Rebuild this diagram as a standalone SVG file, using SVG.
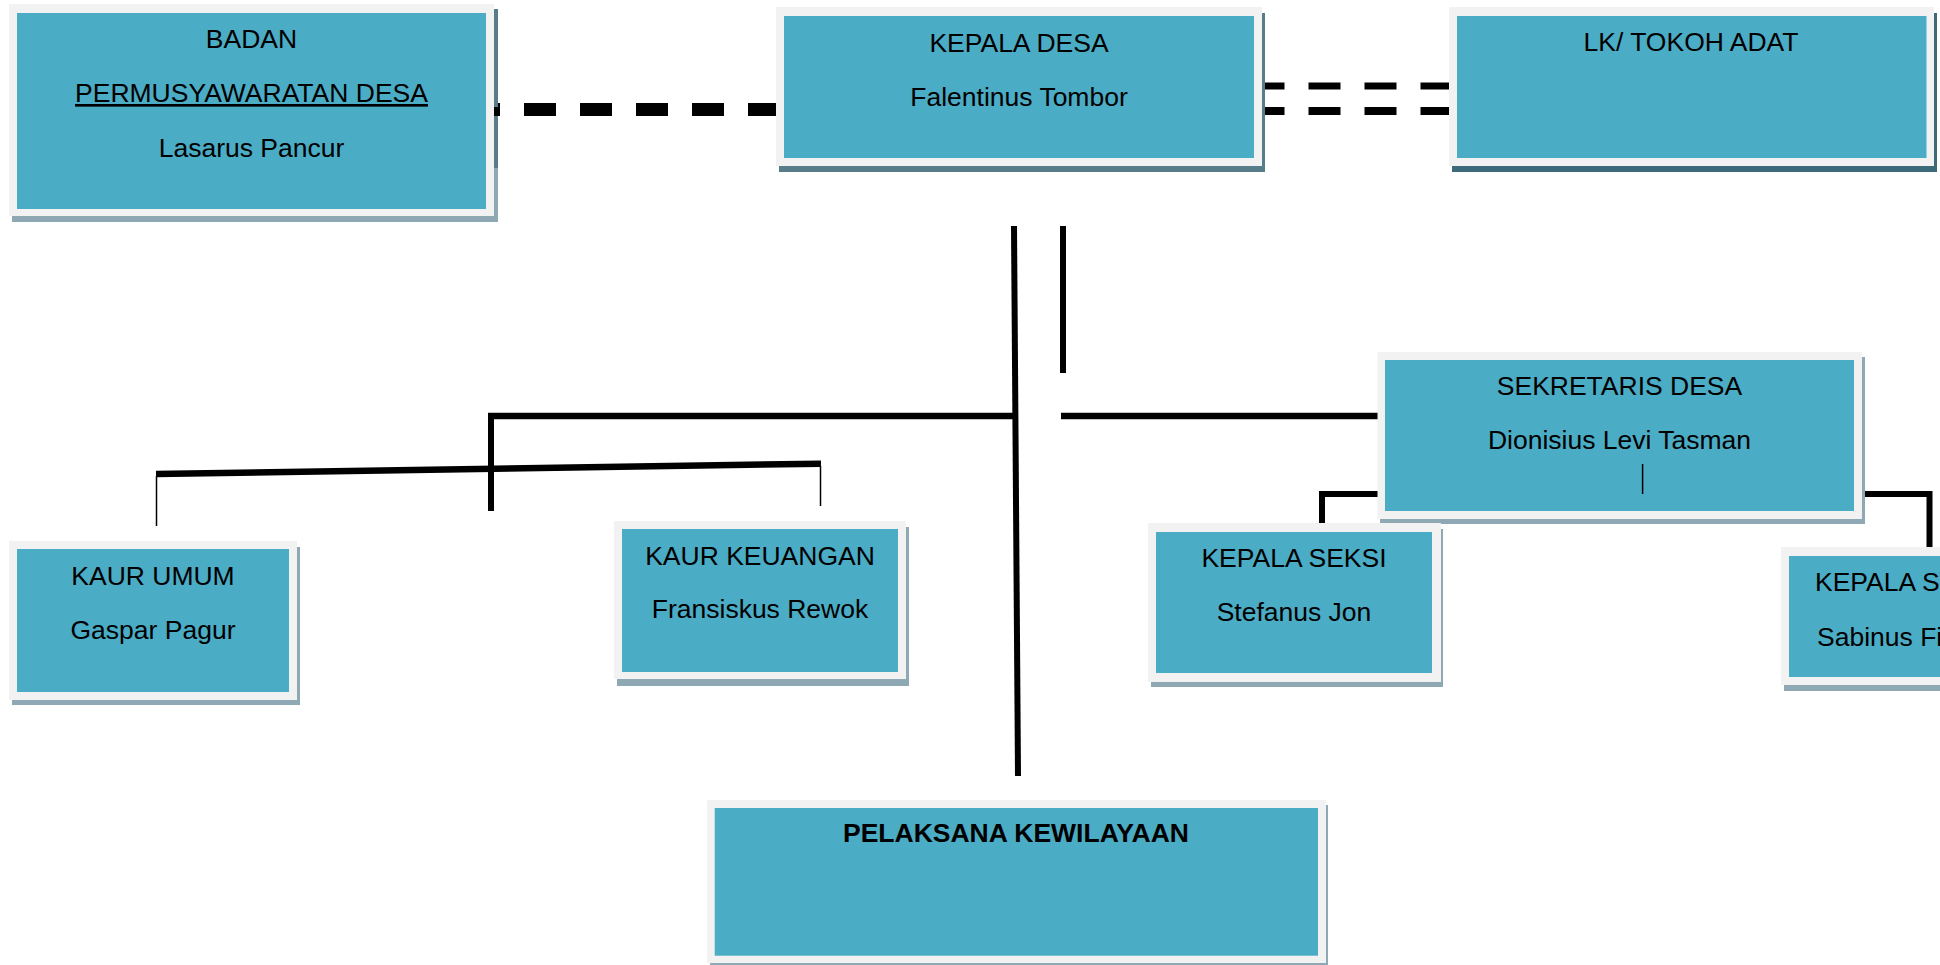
<svg xmlns="http://www.w3.org/2000/svg" width="1940" height="965" viewBox="0 0 1940 965">
<style>
.fr{fill:#f2f2f2}
.in{fill:#4bacc6}
.sh{fill:#8fa9b4}
.shd{fill:#577d8b}
.shk{fill:#3c6a7a}
text{font-family:"Liberation Sans",Arial,sans-serif;font-size:26.5px;fill:#000;text-anchor:middle}
.b{font-weight:bold}
.st{text-anchor:start}
.ln{stroke:#000;fill:none;stroke-linecap:butt;stroke-linejoin:miter}
</style>
<rect width="1940" height="965" fill="#fff"/>
<g id="connectors">
<line class="ln" x1="494" y1="109.5" x2="780" y2="109.5" stroke-width="13" stroke-dasharray="32 24" stroke-dashoffset="26"/>
<line class="ln" x1="1264" y1="86" x2="1449" y2="86" stroke-width="7" stroke-dasharray="32 24" stroke-dashoffset="11.5"/>
<line class="ln" x1="1264" y1="111" x2="1449" y2="111" stroke-width="8" stroke-dasharray="32 24" stroke-dashoffset="11.5"/>
<line class="ln" x1="1014" y1="226" x2="1018" y2="776" stroke-width="6"/>
<line class="ln" x1="1063" y1="226" x2="1063" y2="373" stroke-width="6"/>
<line class="ln" x1="488" y1="416" x2="1015" y2="416" stroke-width="6.5"/>
<line class="ln" x1="491" y1="413" x2="491" y2="511" stroke-width="6"/>
<line class="ln" x1="156" y1="474" x2="821" y2="463.7" stroke-width="6.5"/>
<line class="ln" x1="156.5" y1="476" x2="156.5" y2="526" stroke-width="1.5"/>
<line class="ln" x1="820.5" y1="466" x2="820.5" y2="506" stroke-width="1.5"/>
<line class="ln" x1="1061" y1="416" x2="1378" y2="416" stroke-width="6.5"/>
<path class="ln" d="M1378,494 H1322 V523" stroke-width="6"/>
<path class="ln" d="M1862,494 H1929.5 V547" stroke-width="6"/>
</g>
<g id="bpd">
<rect class="sh" x="12" y="10" width="486" height="212"/>
<rect class="shd" x="494" y="9" width="4" height="159"/>
<rect class="fr" x="9" y="4" width="485" height="212"/>
<rect class="in" x="17" y="13" width="469" height="196"/>
<rect x="494" y="107" width="6" height="9" fill="#000"/>
<text x="251.5" y="48">BADAN</text>
<text x="251.5" y="102" text-decoration="underline">PERMUSYAWARATAN DESA</text>
<text x="251.5" y="157">Lasarus Pancur</text>
</g>
<g id="kepala-desa">
<rect class="shd" x="779" y="13" width="486" height="159"/>
<rect class="fr" x="776" y="7" width="486" height="159"/>
<rect class="in" x="784" y="16" width="470" height="142"/>
<text x="1019" y="52">KEPALA DESA</text>
<text x="1019" y="106">Falentinus Tombor</text>
</g>
<g id="lk-tokoh-adat">
<rect class="shk" x="1452" y="13" width="485" height="159"/>
<rect class="fr" x="1449" y="7" width="485" height="159"/>
<rect class="in" x="1457" y="16" width="469.5" height="142"/>
<text x="1691" y="51">LK/ TOKOH ADAT</text>
</g>
<g id="sekretaris-desa">
<rect class="sh" x="1380" y="357" width="485" height="167"/>
<rect class="fr" x="1377.5" y="352" width="484.5" height="167"/>
<rect class="in" x="1385" y="360" width="469" height="151"/>
<text x="1619.5" y="395">SEKRETARIS DESA</text>
<text x="1619.5" y="449">Dionisius Levi Tasman</text>
<line x1="1642.6" y1="464" x2="1642.6" y2="494" stroke="#000" stroke-width="1.5"/>
</g>
<g id="kaur-umum">
<rect class="sh" x="12" y="547" width="288" height="158"/>
<rect class="fr" x="9" y="541" width="288" height="159"/>
<rect class="in" x="17" y="549" width="272" height="143"/>
<text x="153" y="585">KAUR UMUM</text>
<text x="153" y="639">Gaspar Pagur</text>
</g>
<g id="kaur-keuangan">
<rect class="sh" x="617" y="527" width="292" height="159"/>
<rect class="fr" x="614" y="521" width="292" height="158"/>
<rect class="in" x="622" y="529" width="276" height="143"/>
<text x="760" y="565">KAUR KEUANGAN</text>
<text x="760" y="618">Fransiskus Rewok</text>
</g>
<g id="kepala-seksi-1">
<rect class="sh" x="1151" y="529" width="292" height="158"/>
<rect class="fr" x="1148" y="523" width="293" height="159"/>
<rect class="in" x="1156" y="532" width="276" height="141"/>
<text x="1294" y="567">KEPALA SEKSI</text>
<text x="1294" y="621">Stefanus Jon</text>
</g>
<g id="kepala-seksi-2">
<rect class="sh" x="1784" y="552" width="293" height="139"/>
<rect class="fr" x="1781" y="547" width="293" height="138"/>
<rect class="in" x="1789" y="556" width="277" height="121"/>
<text class="st" x="1815" y="591">KEPALA SEKSI</text>
<text class="st" x="1817" y="646">Sabinus Fi</text>
</g>
<g id="pelaksana-kewilayaan">
<rect class="sh" x="710" y="805" width="618" height="163"/>
<rect class="fr" x="707" y="800" width="619" height="163"/>
<rect class="in" x="714.7" y="808" width="603.3" height="147.7"/>
<text class="b" x="1016" y="842">PELAKSANA KEWILAYAAN</text>
</g>
</svg>
